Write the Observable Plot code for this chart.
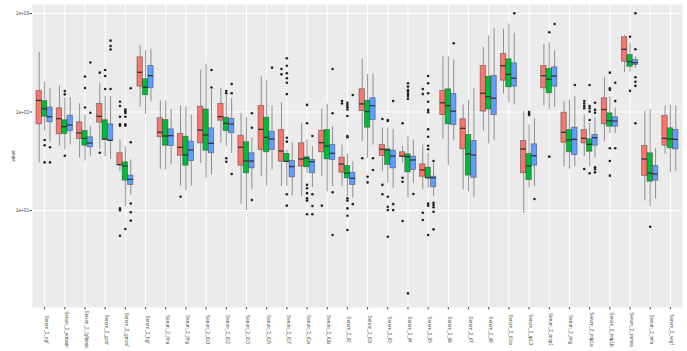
<!DOCTYPE html>
<html><head><meta charset="utf-8">
<script src="https://cdn.jsdelivr.net/npm/d3@7"></script>
<script src="https://cdn.jsdelivr.net/npm/@observablehq/plot@0.6"></script>
<style>body{margin:0;background:#fff}svg{display:block}</style>
</head><body><div id="chart"></div>
<script>
const categories = ["Serum_2_egf","Serum_2_eotaxin","Serum_2_fgfbasic","Serum_2_gcsf","Serum_2_gmcsf","Serum_2_hgf","Serum_2_ifna","Serum_2_ifng","Serum_2_il10","Serum_2_il12","Serum_2_il13","Serum_2_il15","Serum_2_il17","Serum_2_il1a","Serum_2_il1b","Serum_2_il2","Serum_2_il2r","Serum_2_il3","Serum_2_il4","Serum_2_il5","Serum_2_il6","Serum_2_il7","Serum_2_il8","Serum_2_il1ra","Serum_2_ip10","Serum_2_mcp1","Serum_2_mig","Serum_2_mip1a","Serum_2_mip1b","Serum_2_rantes","Serum_2_tnfa","Serum_2_vegf"];
const groups = ["g1","g2","g3"];
const groupColors = ["#F8766D","#00BA38","#619CFF"];
const yTicks = [10, 100, 1000];
const yTickLabels = ["1e+01","1e+02","1e+03"];
const yTitle = "value";

// group 1 (red)
const redLo  = [30.5,45.2,33.9,41.8,24.8,113,26.2,17.7,30.1,48.1,11.6,22,17.5,13.8,22,17.5,50,24.8,30.5,16.2,53.2,16.2,64,152,9.37,115,27.9,35.2,50,251,12.5,37.5];
const redQ1  = [75,59.4,53.2,77.9,29,181,55.4,36,48.1,81.6,28.5,41.1,31.3,27.9,39,24.2,102,35.7,35.2,22,93,41.8,101,208,23.9,174,48.8,48.1,75,324,22.4,45.5];
const redMed = [131,85.5,61.2,90.4,29.2,253,62.2,43.8,65.6,89.6,43.8,66.7,40.2,33.3,48.8,29.6,121,41.8,35.7,25.8,124,68.3,155,295,42.1,234,62.2,54,106,433,33.3,54];
const redQ3  = [163,109,78.6,121,38.1,359,86.3,59.8,113,121,57.5,115,65.6,48.1,64.6,34.4,170,46.2,39,29.4,164,84.3,293,388,50.8,293,98.4,65.6,138,573,45.2,91.2];
const redHi  = [404,184,121,198,52,471,129,115,267,174,97,228,124,76.8,107,46.2,343,68.8,44.5,46.2,364,118,454,691,101,487,127,93,225,598,102,115];
const redOut = [[],[],[],[251,38.6],[127,115,89.6,75,72.6,10.5,10.05,5.55],[],[],[13.8],[],[],[],[],[273,241],[],[11.2],[129,122],[33.9],[84.9,18.2,14.6],[76.8,21.5,19.6,7.82],[171,152,9.5,8.0],[],[],[],[],[],[],[],[129,122,115,109,26.4],[],[],[],[]];

// group 2 (green)
const greenLo  = [64,41.1,31.8,35.2,10.9,94.8,25.8,15.9,21.5,44.5,9.95,17.7,17.5,23.9,15.5,13.8,33.9,18.9,13.3,16.8,28.5,15.5,47.3,125,16.8,105,26.2,27.9,60.8,256,10.9,24.2];
const greenQ1  = [89.6,59.8,45.5,52,20.1,148,45.5,28.5,40.5,64,23.9,39,31.3,27.5,33.1,21.2,69.3,29,24.4,21.5,75,22.6,106,178,20.4,155,39,39.5,71,288,19.6,42.8];
const greenMed = [108,71,54,53.2,28.3,178,57,36.6,58.5,76.8,31.8,55.4,31.5,33.9,45.2,23.9,101,41.1,35.2,21.5,116,37.5,143,241,28.3,215,52,47,81.6,324,23.9,53.2];
const greenQ3  = [129,82.4,64,82.4,30.8,215,83,56.1,106,87.5,49.3,87.5,37.5,34.7,65.6,28.3,130,41.8,37.2,27.2,170,58.5,228,343,37.5,273,65.6,52.8,97,379,38.1,68.3];
const greenHi  = [202,139,93,145,44.5,419,130,113,305,147,87.5,208,41.1,52,120,37.5,241,68.8,56.1,38.1,364,132,591,782,73.8,505,132,76.8,143,501,105,118];
const greenOut = [[52,46,30.8],[163,151,36],[229,175,111],[267,232,171],[106,102,97.7,89.6,75,72.6,6.5],[],[],[],[],[163,155,33.9,31.3],[],[],[351,295,247,220,198,152,54.8,50,14.6,11.2],[118,76.8,18.2,16.8,15,13.3,12.6,9.15],[],[124,118,112,106,91.2,57,55.4,13.3,12.6,10.5,8.85,6.34],[22,19.3],[83,81,13.8,10.9,10.1,5.42],[196,181,167,161,152,145,136,1.44],[232,196,155,127,105,99.3,66.7,56.1,45.5,41.8,11.8,11.2,5.64],[],[],[],[],[100,96.6,93],[644,35.2],[],[188,115,109,101,83,23.9],[251,174,167,42.8,31.8,22.6],[581,164],[6.85],[]];

// group 3 (blue)
const blueLo  = [49.3,47,35.7,33.1,14.4,127,29,17.7,22.9,38.1,16.2,25.8,14.1,17.1,17.5,13.3,46.2,16.8,18.9,13.8,52,13.5,51.2,118,17.5,112,27.9,33.9,60.8,278,13.1,24.8];
const blueQ1  = [78.6,64,43.8,50.8,18.2,174,45.2,31.8,38.1,60.8,26.8,41.1,21.7,23.9,32.6,18.2,83,26.8,25.8,17.2,73.8,21.5,93,181,28.5,181,36.6,45.5,71,300,20.1,41.8];
const blueMed = [89.6,73.8,48.4,51.6,20.7,234,57.5,41.1,48.1,75.5,31.8,53.2,27.9,31.3,38.1,21.2,116,35.7,32.6,21.5,102,36.6,138,220,36,232,52.8,54.9,81,316,23.5,52.8];
const blueQ3  = [111,91.7,55.4,75,22.6,293,66.7,50,68.3,84.9,38.1,63.1,31.8,32.6,46.2,24.2,138,40.5,35.2,22,152,50.8,232,312,47,284,69.3,58.5,88.4,337,28.3,65.6];
const blueHi  = [174,140,71,143,32.6,436,106,93,167,138,54.5,115,48.8,44.5,71,31.3,243,66.7,52,30.3,337,174,708,630,84.9,419,143,86.9,110,364,42.8,115];
const blueOut = [[43.8,30.8],[],[318,98.4],[530,468,431,171],[174,49.3,11.8,9.6,7.9],[],[],[],[267,177],[192,155,23.5],[97,69.3,12.8],[282],[],[57,14.6,11.1,9.15],[273,97,15.3,5.64],[149,11.6],[33.9,25.8],[129,11.6,10.1],[14.7],[31.8,12,11.4,10.8,9.7,6.44],[498],[],[],[1004],[13.1],[782],[188],[124,105,98.4,27.5,26.2,24.4],[198,129,42.8],[1004,433,225,203,184,76.8],[],[]];

const stats = [
  [redLo, redQ1, redMed, redQ3, redHi, redOut],
  [greenLo, greenQ1, greenMed, greenQ3, greenHi, greenOut],
  [blueLo, blueQ1, blueMed, blueQ3, blueHi, blueOut]
];
const dodge = 0.8 / 3, half = dodge / 2;
const catPositions = categories.map((c, i) => i + 1);
const boxes = [], outliers = [];
groups.forEach((g, gi) => {
  const [lo, q1, med, q3, hi, out] = stats[gi];
  categories.forEach((c, ci) => {
    const pos = ci + 1 + (gi - 1) * dodge;
    boxes.push({group: g, cat: c, pos, lo: lo[ci], q1: q1[ci], med: med[ci], q3: q3[ci], hi: hi[ci]});
    out[ci].forEach(v => outliers.push({group: g, pos, value: v}));
  });
});

const chart = Plot.plot({
  width: 687, height: 351,
  marginLeft: 32, marginRight: 5, marginTop: 4, marginBottom: 44,
  style: {fontFamily: "'Liberation Sans', Arial, sans-serif", background: "white"},
  x: {type: "linear", domain: [0.4, 32.6]},
  y: {type: "log", domain: [1.036, 1234]},
  color: {domain: groups, range: groupColors},
  marks: [
    Plot.frame({fill: "#EBEBEB", stroke: "none"}),
    Plot.ruleY(yTicks, {stroke: "white", strokeWidth: 1}),
    Plot.ruleX(catPositions, {stroke: "white", strokeWidth: 1}),
    Plot.ruleX(boxes, {x: "pos", y1: "lo", y2: "q1", stroke: "#333", strokeOpacity: 0.5, strokeWidth: 1}),
    Plot.ruleX(boxes, {x: "pos", y1: "q3", y2: "hi", stroke: "#333", strokeOpacity: 0.5, strokeWidth: 1}),
    Plot.rect(boxes, {x1: d => d.pos - half, x2: d => d.pos + half, y1: "q1", y2: "q3", fill: "group", stroke: "#333", strokeOpacity: 0.55, strokeWidth: 0.8}),
    Plot.ruleY(boxes, {y: "med", x1: d => d.pos - half, x2: d => d.pos + half, stroke: "#333", strokeWidth: 1.3}),
    Plot.dot(outliers, {x: "pos", y: "value", r: 1.3, fill: "#222", stroke: "none"}),
    Plot.axisY(yTicks, {tickFormat: d => yTickLabels[yTicks.indexOf(d)], tickSize: 2.5, tickPadding: 1, fontSize: 4.7, color: "#4D4D4D", label: null}),
    Plot.axisX(catPositions, {tickFormat: () => "", tickSize: 2.5, color: "#4D4D4D", label: null}),
    Plot.text(catPositions, {x: d => d, text: d => categories[d - 1], frameAnchor: "bottom", dy: 22, rotate: 90, textAnchor: "middle", fontSize: 4.7, fill: "#4D4D4D"}),
    Plot.text([yTitle], {text: d => d, frameAnchor: "left", dx: -19, rotate: -90, textAnchor: "middle", fontSize: 4.7, fill: "#333"})
  ]
});
document.getElementById("chart").appendChild(chart);
</script>
</body></html>
